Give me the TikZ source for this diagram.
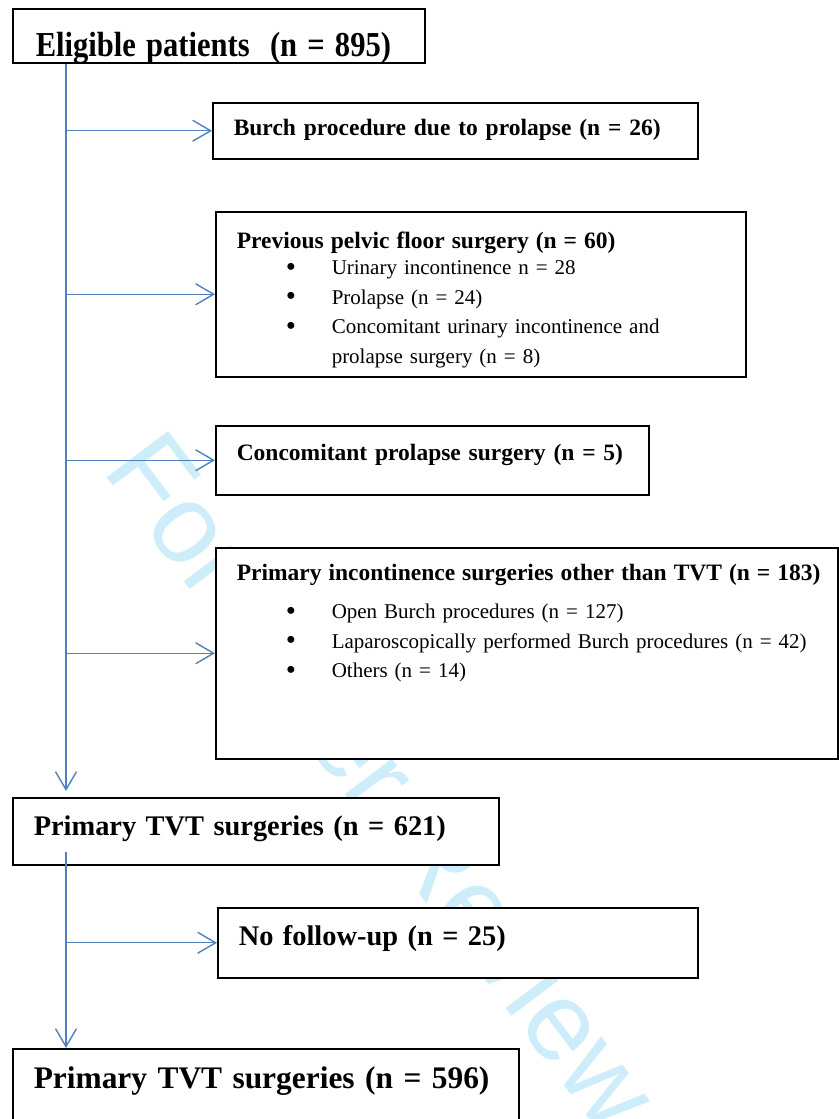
\documentclass[tikz,border=0pt]{standalone}
\usepackage{fontspec}
\setmainfont{Liberation Serif}
\newfontfamily\markfont{Liberation Sans}
\usepackage{graphicx}
\usetikzlibrary{arrows.meta}

\definecolor{flowblue}{RGB}{79,129,189}
\definecolor{markcyan}{RGB}{205,237,251}

\newcommand{\flowitem}[1]{\makebox[95pt][l]{\hspace*{49pt}{\fontsize{29}{29}\selectfont\raisebox{-1.5pt}{\textbullet}}}#1}

\tikzset{
  flowbox/.style={draw, fill=white, line width=1.5pt, anchor=north west,
    inner xsep=21pt, inner ysep=0pt, align=left},
  bigtext/.style={font=\bfseries\fontsize{28.4}{34}\selectfont},
  midtext/.style={font=\bfseries\fontsize{23.5}{29}\selectfont},
  listtext/.style={font=\fontsize{21}{29.5}\selectfont},
  flowarrow/.style={draw=flowblue, line width=1.4pt,
    -{Straight Barb[length=18pt,width=21pt]}},
}

\begin{document}
\begin{tikzpicture}[x=1pt,y=-1pt]
    \useasboundingbox (0,0) rectangle (838,1119);

    % watermark
    \node[anchor=base west, rotate=-53, text=markcyan,
      font=\markfont\fontsize{112}{112}\selectfont] (mark) at (99,468) {For Peer Review};

    \node[flowbox, text width=366pt, inner xsep=23pt, text height=48pt, text depth=6pt,
      font=\bfseries\fontsize{35}{40}\selectfont] (elig) at (12,8)
      {\scalebox{0.873}[1]{Eligible patients~~(n = 895)}};
    \node[flowbox, midtext, text width=443pt, text height=33pt, text depth=23pt] (burch) at (212,102)
      {\mbox{Burch procedure due to prolapse (n = 26)}};
    \node[flowbox, listtext, text width=488pt, text height=37pt, text depth=128pt] (prev) at (215,211)
      {{\bfseries\fontsize{23.5}{29}\selectfont Previous pelvic floor surgery (n = 60)}\\[-3.5pt]
       \flowitem{Urinary incontinence n = 28}\\
       \flowitem{Prolapse (n = 24)}\\
       \flowitem{Concomitant urinary incontinence and}\\
       \hspace*{95pt}prolapse surgery (n = 8)};
    \node[flowbox, midtext, text width=391pt, text height=35pt, text depth=34pt] (conc) at (215,425)
      {\mbox{Concomitant prolapse surgery (n = 5)}};
    \node[flowbox, listtext, text width=580pt, text height=33pt, text depth=178pt] (other) at (215,547)
      {\mbox{\bfseries\fontsize{23.5}{29}\selectfont Primary incontinence surgeries other than TVT (n = 183)}\\[8.5pt]
       \flowitem{Open Burch procedures (n = 127)}\\
       \flowitem{Laparoscopically performed Burch procedures (n = 42)}\\
       \flowitem{Others (n = 14)}};
    \node[flowbox, bigtext, text width=444pt, text height=38pt, text depth=29pt] (tvt) at (12,797)
      {\mbox{Primary TVT surgeries (n = 621)}};
    \node[flowbox, bigtext, text width=438pt, text height=38pt, text depth=32pt] (nofu) at (217,907)
      {\mbox{No follow-up (n = 25)}};
    \node[flowbox, text width=464pt, text height=40pt, text depth=40pt,
      font=\bfseries\fontsize{31.4}{38}\selectfont] (final) at (12,1048)
      {\mbox{Primary TVT surgeries (n = 596)}};

    \coordinate (spine) at (66,0);
    \coordinate (tvtfoot) at ([yshift=14pt]tvt.south);
    \draw[flowarrow, shorten >=6pt] (elig.south -| spine) -- (tvt.north -| spine);
    \foreach \nd in {burch,prev,conc,other}
        \draw[flowarrow] (\nd.west -| spine) -- (\nd.west);
    \draw[flowarrow] (tvtfoot -| spine) -- (final.north -| spine);
    \draw[flowarrow] (nofu.west -| spine) -- (nofu.west);
    % \draw[help lines] (0,0) grid[step=50] (838,1119);
\end{tikzpicture}
\end{document}
